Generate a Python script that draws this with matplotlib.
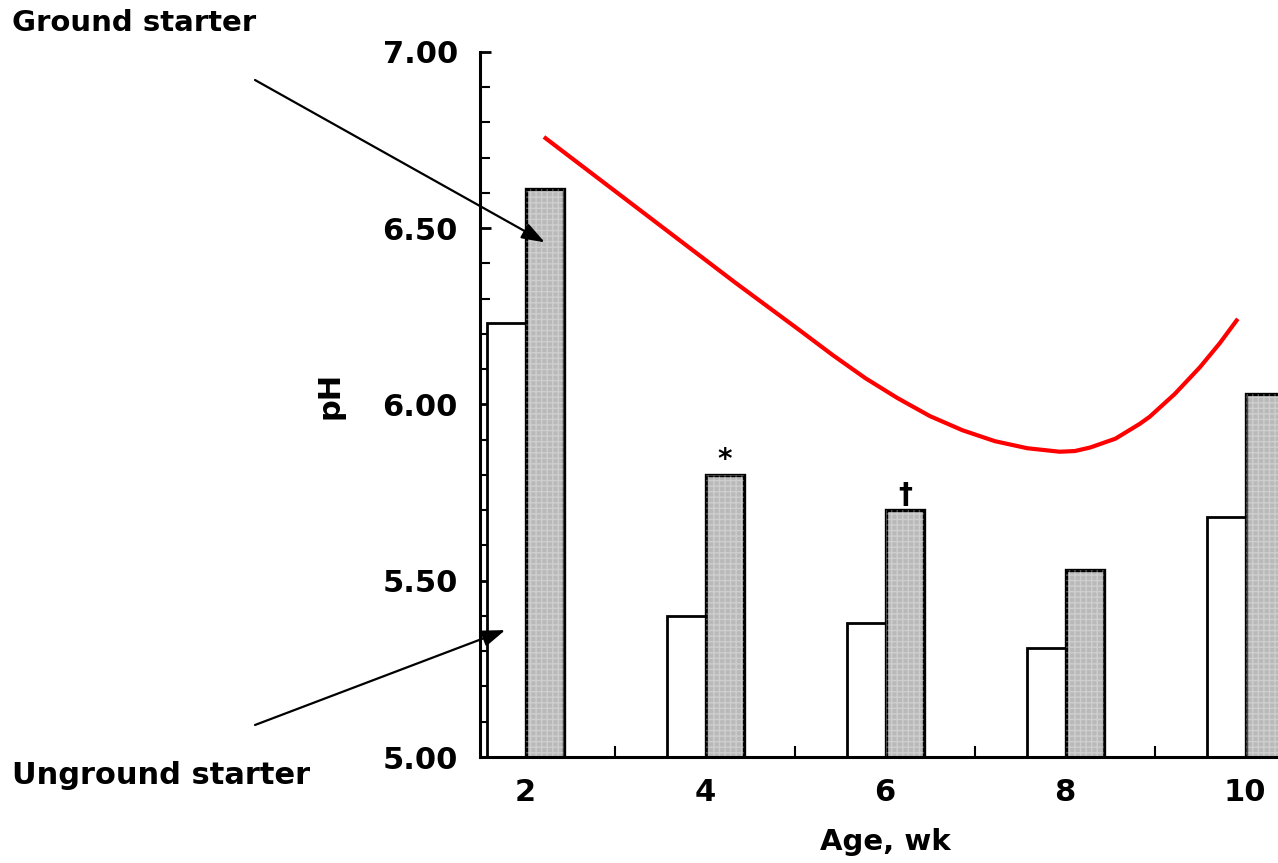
import matplotlib
matplotlib.use("Agg")
import matplotlib.pyplot as plt
from matplotlib.ticker import MultipleLocator

# ---- data ----
ages = [2, 4, 6, 8, 10]
unground_ph = [6.23, 5.40, 5.38, 5.31, 5.68]
ground_ph = [6.61, 5.80, 5.70, 5.53, 6.03]
marks = ["", "*", "\u2020", "", ""]
curve_age = [2.21, 2.92, 3.63, 4.34, 5.06, 5.42, 5.78, 6.14, 6.50, 6.86,
             7.22, 7.58, 7.94, 8.11, 8.28, 8.56, 8.83, 8.94, 9.22, 9.50,
             9.72, 9.92]
curve_ph = [6.759, 6.621, 6.483, 6.345, 6.209, 6.140, 6.075, 6.018, 5.967,
            5.927, 5.896, 5.876, 5.866, 5.868, 5.878, 5.903, 5.945, 5.965,
            6.030, 6.106, 6.174, 6.243]
ytick_vals = [5.0, 5.5, 6.0, 6.5, 7.0]
ytick_labels = ["5.00", "5.50", "6.00", "6.50", "7.00"]

plt.rcParams['font.family'] = ['DejaVu Sans']
plt.rcParams['font.weight'] = 'bold'

W, H = 1278, 863
fig = plt.figure(figsize=(W / 100, H / 100), dpi=100)
ax_left = 480 / W
ax_bottom = (H - 757) / H
ax_height = (757 - 52) / H
xmin, xmax = 1.5, 10.6
ax_width = (xmax - xmin) * 90 / W
ax = fig.add_axes([ax_left, ax_bottom, ax_width, ax_height])

ax.bar([a - 0.42 for a in ages], unground_ph, width=0.43, align='edge',
       color='white', edgecolor='black', linewidth=2, zorder=2)
ax.bar([a + 0.01 for a in ages], ground_ph, width=0.42, align='edge',
       color='#b9b9b9', edgecolor='black', linewidth=2.4, zorder=2)
ax.bar([a + 0.01 for a in ages], ground_ph, width=0.42, align='edge',
       color='none', edgecolor='white', hatch='+++', linewidth=0, zorder=2,
       alpha=0.3)

for a, v, m in zip(ages, ground_ph, marks):
    if m:
        ax.text(a + 0.22, v + 0.003, m, ha='center', va='bottom', fontsize=20,
                fontweight='bold', color='black')

ax.plot(curve_age, curve_ph, color='#ff0000', linewidth=3, zorder=3,
        solid_capstyle='butt', solid_joinstyle='round')

ax.set_xlim(xmin, xmax)
ax.set_ylim(5.0, 7.0)
ax.set_yticks(ytick_vals)
ax.set_yticklabels(ytick_labels)
ax.yaxis.set_minor_locator(MultipleLocator(0.1))
ax.set_xticks(ages)
ax.set_xticklabels([str(a) for a in ages])
ax.set_xticks([3, 5, 7, 9], minor=True)

ax.tick_params(axis='y', which='major', direction='in', length=8, width=2,
               labelsize=22, pad=16)
ax.tick_params(axis='y', which='minor', direction='in', length=7, width=1.5)
ax.tick_params(axis='x', which='major', direction='in', length=0,
               labelsize=22, pad=15)
ax.tick_params(axis='x', which='minor', direction='in', length=8, width=1.5)
for lab in ax.get_xticklabels() + ax.get_yticklabels():
    lab.set_fontweight('bold')

for s in ['top', 'right']:
    ax.spines[s].set_visible(False)
for s in ['left', 'bottom']:
    ax.spines[s].set_linewidth(2.2)

ax.set_ylabel("pH", fontsize=22, fontweight='bold')
ax.yaxis.set_label_coords((330 - 480) / (ax_width * W), (757 - 395) / 705)
ax.yaxis.label.set_va('center')
ax.set_xlabel("Age, wk", fontsize=21, fontweight='bold')
ax.xaxis.set_label_coords((6.0 - xmin) / (xmax - xmin), -0.1)

ax.text(12 / W, 1 - 23 / H, "Ground starter", transform=fig.transFigure,
        fontsize=21, fontweight='bold', ha='left', va='center')
ax.annotate("", xy=(2.22, 6.46), xycoords='data',
            xytext=(255 / W, 1 - 80 / H), textcoords='figure fraction',
            arrowprops=dict(arrowstyle='-|>,head_length=1.4,head_width=0.5',
                            color='black', lw=1.6, shrinkA=0, shrinkB=0))

ax.text(12 / W, 1 - 775 / H, "Unground starter", transform=fig.transFigure,
        fontsize=22, fontweight='bold', ha='left', va='center')
ax.annotate("", xy=(1.78, 5.36), xycoords='data',
            xytext=(255 / W, 1 - 725 / H), textcoords='figure fraction',
            arrowprops=dict(arrowstyle='-|>,head_length=1.4,head_width=0.5',
                            color='black', lw=1.6, shrinkA=0, shrinkB=0))

fig.savefig("out.png", dpi=100)
